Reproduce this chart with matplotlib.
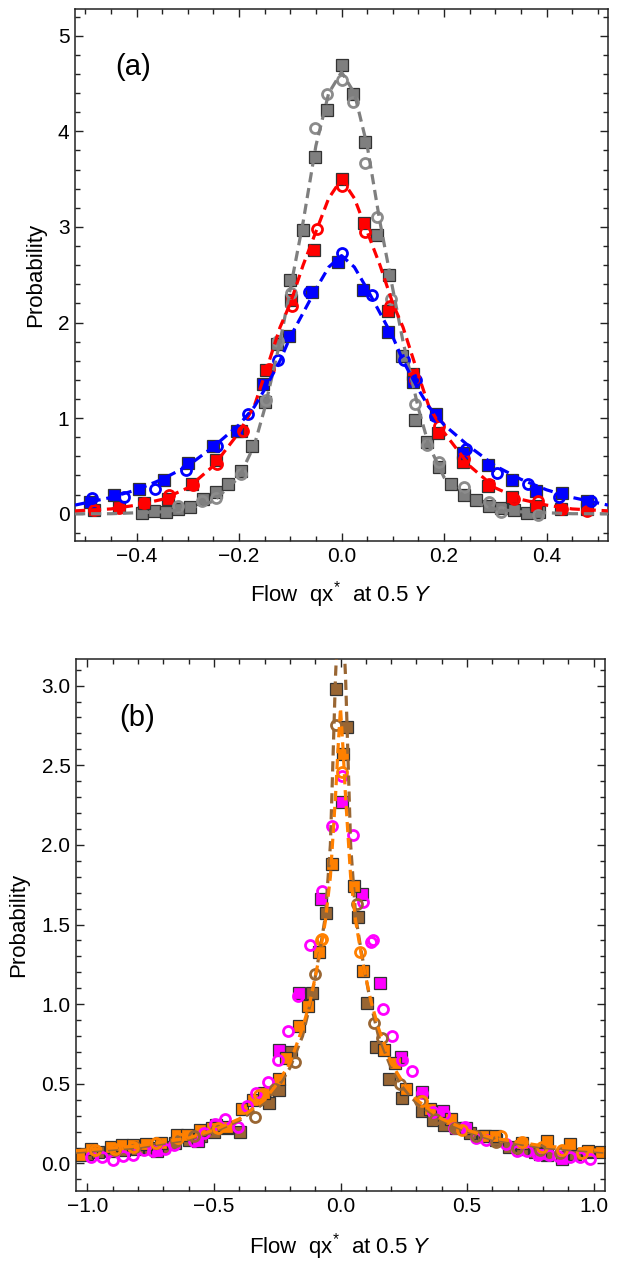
import matplotlib
matplotlib.use("Agg")
import matplotlib.pyplot as plt
from matplotlib.ticker import MultipleLocator

plt.rcParams['font.family'] = ['Liberation Sans', 'DejaVu Sans']
plt.rcParams['mathtext.fontset'] = 'custom'
plt.rcParams['mathtext.rm'] = 'Liberation Sans'
plt.rcParams['mathtext.it'] = 'Liberation Sans:italic'

# ---------------- panel (a) data ----------------
gray_sq_x = [-0.39, -0.366, -0.342, -0.319, -0.295, -0.27, -0.244, -0.221, -0.197, -0.174, -0.149, -0.125, -0.1,
             -0.076, -0.052, -0.028, 0.0, 0.022, 0.045, 0.069, 0.093, 0.118, 0.143, 0.167, 0.19, 0.214, 0.238,
             0.263, 0.288, 0.312, 0.337, 0.361, 0.386]
gray_sq_y = [0.01, 0.03, 0.02, 0.05, 0.07, 0.15, 0.23, 0.31, 0.45, 0.71, 1.17, 1.78, 2.44,
             2.97, 3.73, 4.22, 4.69, 4.39, 3.89, 2.92, 2.50, 1.65, 0.98, 0.75, 0.49, 0.31, 0.20,
             0.14, 0.08, 0.06, 0.04, 0.01, 0.02]
gray_ci_x = [-0.319, -0.272, -0.244, -0.197, -0.147, -0.123, -0.098, -0.051, -0.029, 0.0, 0.022, 0.045, 0.069,
             0.096, 0.143, 0.167, 0.19, 0.239, 0.288, 0.312, 0.384]
gray_ci_y = [0.08, 0.13, 0.16, 0.42, 1.19, 1.81, 2.31, 4.03, 4.39, 4.54, 4.31, 3.67, 3.10,
             2.25, 1.15, 0.72, 0.54, 0.28, 0.12, 0.02, -0.01]

red_sq_x = [-0.483, -0.435, -0.386, -0.339, -0.291, -0.244, -0.197, -0.147, -0.099, -0.054, 0.0, 0.044,
            0.091, 0.14, 0.188, 0.236, 0.285, 0.332, 0.38, 0.428, 0.478]
red_sq_y = [0.035, 0.07, 0.11, 0.15, 0.31, 0.56, 0.87, 1.50, 2.24, 2.76, 3.50, 3.04,
            2.12, 1.46, 0.84, 0.54, 0.29, 0.17, 0.08, 0.05, 0.045]
red_ci_x = [-0.483, -0.435, -0.385, -0.337, -0.29, -0.243, -0.193, -0.141, -0.096, -0.048, 0.0, 0.046,
            0.094, 0.143, 0.19, 0.238, 0.288, 0.336, 0.384, 0.431, 0.478]
red_ci_y = [0.035, 0.056, 0.11, 0.20, 0.30, 0.52, 0.87, 1.51, 2.17, 2.98, 3.43, 2.95,
            2.17, 1.40, 0.92, 0.57, 0.31, 0.15, 0.13, 0.045, 0.03]

blue_sq_x = [-0.49, -0.443, -0.396, -0.346, -0.299, -0.25, -0.203, -0.154, -0.103, -0.057, -0.007, 0.042,
             0.091, 0.14, 0.185, 0.236, 0.285, 0.332, 0.38, 0.43, 0.478]
blue_sq_y = [0.12, 0.20, 0.26, 0.35, 0.53, 0.71, 0.87, 1.36, 1.86, 2.32, 2.63, 2.34,
             1.90, 1.38, 1.04, 0.64, 0.51, 0.35, 0.24, 0.22, 0.13]
blue_ci_x = [-0.486, -0.425, -0.364, -0.304, -0.243, -0.183, -0.123, -0.064, 0.0, 0.059, 0.122, 0.145,
             0.183, 0.243, 0.304, 0.364, 0.425, 0.486]
blue_ci_y = [0.16, 0.17, 0.26, 0.46, 0.71, 1.04, 1.61, 2.32, 2.73, 2.29, 1.61, 1.40,
             1.02, 0.68, 0.43, 0.31, 0.18, 0.13]

# dashed fit curves
fit_a_x = [-0.52, -0.45, -0.4, -0.35, -0.3, -0.25, -0.2, -0.17, -0.15, -0.12, -0.1, -0.075, -0.05, -0.025, 0.0,
           0.025, 0.05, 0.075, 0.1, 0.12, 0.15, 0.17, 0.2, 0.25, 0.3, 0.35, 0.4, 0.45, 0.52]
gray_fit_y = [0.0, 0.0, 0.01, 0.02, 0.05, 0.13, 0.38, 0.72, 1.1, 1.8, 2.35, 3.05, 3.85, 4.4, 4.62,
              4.4, 3.85, 3.05, 2.35, 1.8, 1.1, 0.72, 0.38, 0.13, 0.05, 0.02, 0.01, 0.0, 0.0]
red_fit_y = [0.03, 0.05, 0.09, 0.15, 0.27, 0.5, 0.85, 1.13, 1.45, 1.95, 2.2, 2.6, 2.95, 3.3, 3.5,
             3.3, 2.95, 2.6, 2.2, 1.95, 1.45, 1.13, 0.85, 0.5, 0.27, 0.15, 0.09, 0.05, 0.03]
blue_fit_y = [0.09, 0.17, 0.25, 0.36, 0.5, 0.7, 0.93, 1.12, 1.3, 1.6, 1.85, 2.1, 2.35, 2.58, 2.7,
              2.58, 2.35, 2.1, 1.85, 1.6, 1.3, 1.12, 0.93, 0.7, 0.5, 0.36, 0.25, 0.17, 0.09]

# ---------------- panel (b) data ----------------
brown_sq_x = [-1.0, -0.957, -0.906, -0.855, -0.804, -0.753, -0.703, -0.652, -0.6, -0.55, -0.499, -0.448, -0.397,
              -0.284, -0.244, -0.196, -0.113, -0.059, -0.018, 0.027, 0.071, 0.105, 0.141, 0.192, 0.243,
              0.323, 0.364, 0.41, 0.458, 0.512, 0.563, 0.614, 0.665, 0.716, 0.767, 0.817, 0.876, 0.927, 0.977]
brown_sq_y = [0.06, 0.07, 0.08, 0.085, 0.09, 0.10, 0.105, 0.13, 0.15, 0.17, 0.20, 0.22, 0.20,
              0.38, 0.46, 0.70, 1.07, 1.57, 2.98, 2.74, 1.55, 1.01, 0.73, 0.53, 0.41,
              0.33, 0.27, 0.24, 0.22, 0.19, 0.17, 0.15, 0.105, 0.09, 0.07, 0.05, 0.04, 0.06, 0.07]
brown_ci_x = [-0.97, -0.89, -0.81, -0.73, -0.65, -0.579, -0.49, -0.339, -0.259, -0.179, -0.102, -0.018,
              0.067, 0.134, 0.163, 0.236, 0.316, 0.374, 0.454, 0.534, 0.614, 0.698, 0.788, 0.868]
brown_ci_y = [0.084, 0.084, 0.105, 0.13, 0.14, 0.17, 0.21, 0.29, 0.47, 0.64, 1.19, 2.75,
              1.63, 0.88, 0.79, 0.50, 0.39, 0.28, 0.22, 0.17, 0.136, 0.094, 0.084, 0.067]

orange_sq_x = [-1.03, -0.986, -0.906, -0.863, -0.819, -0.768, -0.71, -0.647, -0.608, -0.557, -0.506, -0.448,
               -0.39, -0.346, -0.303, -0.244, -0.215, -0.164, -0.128, -0.084, -0.034, 0.009, 0.053, 0.09,
               0.173, 0.214, 0.26, 0.352, 0.435, 0.57, 0.61, 0.716, 0.817, 0.905, 0.977, 1.028]
orange_sq_y = [0.05, 0.09, 0.105, 0.115, 0.115, 0.12, 0.13, 0.18, 0.18, 0.21, 0.22, 0.23,
               0.34, 0.40, 0.44, 0.53, 0.66, 0.86, 0.99, 1.33, 1.88, 2.57, 1.74, 1.21,
               0.71, 0.63, 0.47, 0.34, 0.28, 0.17, 0.17, 0.13, 0.14, 0.12, 0.08, 0.07]
orange_ci_x = [-0.97, -0.89, -0.819, -0.73, -0.644, -0.484, -0.324, -0.077, -0.074, 0.004, 0.076,
               0.323, 0.479, 0.636, 0.716, 0.796, 0.876, 0.956]
orange_ci_y = [0.084, 0.088, 0.105, 0.126, 0.16, 0.22, 0.43, 1.40, 1.41, 2.46, 1.33,
               0.39, 0.21, 0.17, 0.136, 0.105, 0.084, 0.063]

mag_sq_x = [-0.724, -0.565, -0.49, -0.244, -0.164, -0.077, 0.004, 0.086, 0.156, 0.239, 0.323, 0.403,
            0.497, 0.788, 0.876]
mag_sq_y = [0.08, 0.14, 0.24, 0.71, 1.07, 1.66, 2.27, 1.69, 1.13, 0.67, 0.45, 0.33,
            0.22, 0.06, 0.03]
mag_ci_x = [-0.986, -0.943, -0.899, -0.858, -0.819, -0.775, -0.739, -0.695, -0.659, -0.579, -0.54, -0.495,
            -0.455, -0.404, -0.368, -0.332, -0.288, -0.247, -0.208, -0.167, -0.121, -0.074, -0.034, 0.004,
            0.049, 0.09, 0.119, 0.13, 0.166, 0.204, 0.243, 0.284, 0.323, 0.364, 0.407, 0.447, 0.49, 0.534,
            0.575, 0.655, 0.698, 0.737, 0.781, 0.825, 0.861, 0.905, 0.945, 0.985]
mag_ci_y = [0.042, 0.042, 0.02, 0.046, 0.052, 0.084, 0.078, 0.088, 0.115, 0.14, 0.19, 0.25,
            0.28, 0.23, 0.36, 0.44, 0.51, 0.65, 0.83, 1.05, 1.37, 1.71, 2.12, 2.43,
            2.06, 1.64, 1.39, 1.40, 0.97, 0.80, 0.65, 0.58, 0.44, 0.32, 0.31, 0.22, 0.23, 0.157,
            0.147, 0.12, 0.08, 0.078, 0.052, 0.052, 0.048, 0.042, 0.042, 0.03]

fit_b_x = [-1.045, -0.8, -0.6, -0.5, -0.4, -0.3, -0.25, -0.2, -0.15, -0.12, -0.1, -0.08, -0.06, -0.04, -0.02,
           -0.01, 0.0, 0.01, 0.02, 0.04, 0.06, 0.08, 0.1, 0.12, 0.15, 0.2, 0.25, 0.3, 0.4, 0.5, 0.6, 0.8, 1.045]
brown_fit_y = [0.07, 0.1, 0.15, 0.2, 0.27, 0.38, 0.47, 0.6, 0.8, 1.0, 1.17, 1.35, 1.55, 2.0, 3.05,
               3.4, 3.6, 3.4, 3.05, 2.0, 1.55, 1.35, 1.17, 1.0, 0.8, 0.6, 0.47, 0.38, 0.27, 0.2, 0.15, 0.1, 0.07]
orange_fit_y = [0.08, 0.11, 0.16, 0.21, 0.28, 0.4, 0.5, 0.63, 0.85, 1.02, 1.17, 1.33, 1.52, 1.8, 2.3,
                2.6, 2.86, 2.6, 2.3, 1.8, 1.52, 1.33, 1.17, 1.02, 0.85, 0.63, 0.5, 0.4, 0.28, 0.21, 0.16, 0.11, 0.08]

GRAY = '#7f7f7f'
RED = '#ff0000'
BLUE = '#0000ff'
BROWN = '#996633'
ORANGE = '#ff8000'
MAGENTA = '#ff00ff'

fig = plt.figure(figsize=(6.22, 12.61), dpi=100)
ax1 = fig.add_axes([0.1206, 0.571, 0.857, 0.4219])
ax2 = fig.add_axes([0.1222, 0.0555, 0.8505, 0.4219])


def squares(ax, x, y, c):
    ax.plot(x, y, 's', ms=8.6, mfc=c, mec='#333333', mew=0.9, ls='none', zorder=2)


def circles(ax, x, y, c):
    ax.plot(x, y, 'o', ms=7.2, mfc='none', mec=c, mew=2.0, ls='none', zorder=3)


def fit(ax, x, y, c):
    ax.plot(x, y, ls=(0, (3.2, 1.8)), lw=2.3, color=c, zorder=4)


for x, y, c in [(gray_sq_x, gray_sq_y, GRAY), (red_sq_x, red_sq_y, RED), (blue_sq_x, blue_sq_y, BLUE)]:
    squares(ax1, x, y, c)
for x, y, c in [(gray_ci_x, gray_ci_y, '#8c8c8c'), (red_ci_x, red_ci_y, RED), (blue_ci_x, blue_ci_y, BLUE)]:
    circles(ax1, x, y, c)
fit(ax1, fit_a_x, gray_fit_y, GRAY)
fit(ax1, fit_a_x, red_fit_y, RED)
fit(ax1, fit_a_x, blue_fit_y, BLUE)

for x, y, c in [(brown_sq_x, brown_sq_y, BROWN), (mag_sq_x, mag_sq_y, MAGENTA), (orange_sq_x, orange_sq_y, ORANGE)]:
    squares(ax2, x, y, c)
for x, y, c in [(mag_ci_x, mag_ci_y, MAGENTA), (brown_ci_x, brown_ci_y, BROWN), (orange_ci_x, orange_ci_y, ORANGE)]:
    circles(ax2, x, y, c)
fit(ax2, fit_b_x, brown_fit_y, BROWN)
fit(ax2, fit_b_x, orange_fit_y, ORANGE)

ax1.set_xlim(-0.52, 0.52)
ax1.set_ylim(-0.285, 5.28)
ax1.xaxis.set_major_locator(MultipleLocator(0.2))
ax1.xaxis.set_minor_locator(MultipleLocator(0.05))
ax1.yaxis.set_major_locator(MultipleLocator(1))
ax1.yaxis.set_minor_locator(MultipleLocator(0.2))

ax2.set_xlim(-1.045, 1.045)
ax2.set_ylim(-0.173, 3.167)
ax2.xaxis.set_major_locator(MultipleLocator(0.5))
ax2.xaxis.set_minor_locator(MultipleLocator(0.1))
ax2.yaxis.set_major_locator(MultipleLocator(0.5))
ax2.yaxis.set_minor_locator(MultipleLocator(0.1))

xlabel = r"Flow  qx$^{*}$  at 0.5 $\mathit{Y}$"
for ax, tag, tx, ty, ylx, xly in [(ax1, "(a)", 0.109, 0.891, -0.054, -0.071),
                                  (ax2, "(b)", 0.116, 0.889, -0.089, -0.075)]:
    ax.tick_params(which='both', direction='in', top=True, right=True, width=1.0, colors='#222222',
                   labelcolor='black', labelsize=15, pad=4)
    ax.tick_params(which='major', length=5.5)
    ax.tick_params(which='minor', length=3.5)
    for s in ax.spines.values():
        s.set_linewidth(1.1)
        s.set_color('#222222')
    ax.set_xlabel(xlabel, fontsize=16)
    ax.set_ylabel("Probability", fontsize=16)
    ax.xaxis.set_label_coords(0.5, xly)
    ax.yaxis.set_label_coords(ylx, 0.5)
    ax.text(tx, ty, tag, transform=ax.transAxes, fontsize=21, ha='center', va='center')

fig.savefig("out.png", dpi=100)
